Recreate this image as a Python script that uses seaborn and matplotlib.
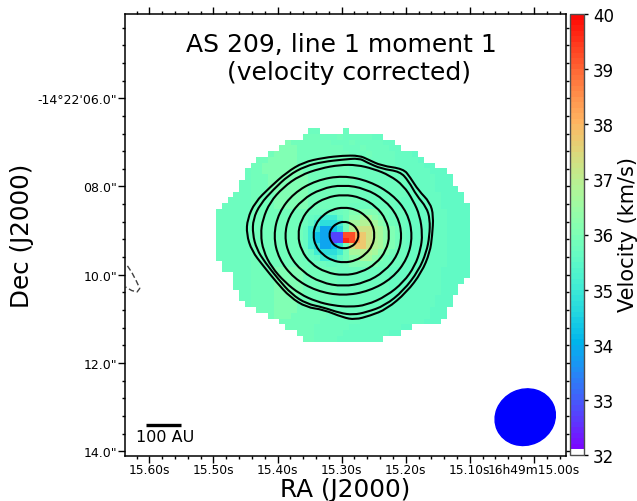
import numpy as np
import pandas as pd
import seaborn as sns
import matplotlib.pyplot as plt
from matplotlib.colors import ListedColormap
from matplotlib.patches import Ellipse, PathPatch
from matplotlib.path import Path

sns.set_style("ticks")
plt.rcParams["font.family"] = "DejaVu Sans"
for key in ["text.color", "axes.labelcolor", "xtick.color", "ytick.color", "axes.edgecolor"]:
    plt.rcParams[key] = "black"

# velocity levels (km/s) for the letters used in the map rows below
level_names = "abcdefghijklmnopqrs"
level_vals = [32.8, 33.4, 33.9, 34.3, 34.7, 35.0, 35.5, 35.6, 35.7, 35.85, 36.0,
              36.3, 36.6, 36.9, 37.3, 37.7, 38.2, 39.3, 39.6]

# first column with signal in each row, then the pixels
row_start = [16, 15, 12, 11, 9, 7, 6, 5, 5, 4, 4, 3, 2, 1,
             0, 0, 0, 0, 0, 0, 0, 0, 0, 1,
             1, 3, 3, 3, 4, 4, 5, 7, 9, 11, 12, 14, 15]
row_vals = [
    "ii....i",
    "jjjiiijiiiiihh",
    "kjjjjjjjiiijiiiiihh",
    "kkkjjjjjjjjiiijiiiihh",
    "jkkkkjjjjjjjjjiiijiiiihhhg",
    "jjkkkkkjjjjjjjjjiiiiiiiihhhhg",
    "jjkkkkkkjjjjjjjjjiiiiiiiihhhhhgg",
    "ijjkkkkkkkjjjjjjjjiiiiiiiiihhhhhggg",
    "ijjjkkkkkkkjjjjjjjjiiiiiiiiihhhhhggg",
    "iijjjkkkkkkkjjjjjjjjiiiiiiiiihhhhhggg",
    "iijjjkkkkkkkjjjjjjjjjiiiiiiiihhhhhgggg",
    "iiijjjjkkkkkkjjjjjjjjjiiiiiiiihhhhhhgggg",
    "iiiijjjjkkkkkkjjjjjjjjjiiiiiiihhhhhhhgggg",
    "iiiiijjjjkkkkkkjjjjjjjiiiiiiiihhhhhhhhggggg",
    "iiiiiijjjjjjjjj" + "jiiihhijkkkkkjji" + "iihhhhhhhgggg",
    "iiiiiijjjjjjjjj" + "ihgfffgjllmmlkji" + "iihhhhhhhgggg",
    "iiiiiijjjjjjjjj" + "igfeeefjmmnnmlkj" + "iihhhhhhhgggg",
    "iiiiiijjjjjjjjj" + "hfeccdejnooonmlk" + "jihhhhhhhgggg",
    "iiiiiijjjjjjjjj" + "hfdccaarrqponmlk" + "jihhhhhhhgggg",
    "iiiiiijjjjjjjjj" + "hfdccaasrqponmlk" + "jihhhhhhhgggg",
    "iiiiiijjjjjjjjj" + "hfeccdejopponmlk" + "jihhhhhhhgggg",
    "iiiiiijjjjjjjjj" + "igfeeefjmmnnmlkj" + "iihhhhhhhgggg",
    "iiiiiijjjjjjjjj" + "ihgfffgjllmmlkji" + "iihhhhhhhgggg",
    "iiiiijjjjjjjjj" + "jiiihhijkkkkkjji" + "iihhhhhhhgggg",
    "iiiiijjjjkkkkkjjjjjjiiiiiiiiihhhhhhhhhggggg",
    "iiijjjjkkkkkjjjjjjiiiiiiiiihhhhhhhhhggggg",
    "iiijjjjkkkkkjjjjjjiiiiiiiiihhhhhhhhhgggg",
    "iiijjjjkkkkkjjjjjjiiiiiiiiihhhhhhhhhggg",
    "iijjjjkkkkkjjjjjjiiiiiiiiihhhhhhhhhggg",
    "iijjjjkkkkjjjjjjiiiiiiiiihhhhhhhhhggg",
    "ijjjjkkkkjjjjjjiiiiiiiiihhhhhhhhhggg",
    "jjjkkkkjjjjjjiiiiiiiiihhhhhhhhggg",
    "jkkkjjjjjjiiiiiiiiihhhhhhhhhggg",
    "jjjjjjjiiiiiiihhhhhhhhhhhggg",
    "jjjjjiiiiiihhhhhhhhhgg",
    "jjjiiiiihhhhhhhhgg",
    "jjiiiihhhhhhhh",
]

# continuum contours, offsets from the disk centre in arcsec (x to the right, y down)
c1_dx = [.35, .55, .85, 1.35, 1.50, 1.69, 1.95, 2.03, 2.00, 1.95, 1.76, 1.42, .97, .59, .25,
         -.02, -.47, -.85, -1.22, -1.53, -1.83, -2.09, -2.21, -2.19, -2.02, -1.68, -1.30, -.92, -.47, -.02]
c1_dy = [-1.80, -1.71, -1.57, -1.50, -1.31, -1.01, -.74, -.44, .02, .39, .85, 1.30, 1.68, 1.83, 1.92,
         1.87, 1.69, 1.64, 1.41, 1.07, .70, .36, -.02, -.36, -.74, -1.08, -1.42, -1.65, -1.75, -1.80]
c2_dx = [.35, .51, .85, 1.27, 1.46, 1.65, 1.87, 1.95, 1.94, 1.87, 1.69, 1.35, .93, .51, .21,
         -.09, -.47, -.85, -1.19, -1.49, -1.79, -1.98, -2.07, -2.06, -1.90, -1.60, -1.26, -.88, -.47, -.02]
c2_dy = [-1.74, -1.65, -1.50, -1.44, -1.23, -.89, -.63, -.36, .02, .39, .81, 1.26, 1.60, 1.75, 1.81,
         1.77, 1.64, 1.56, 1.34, 1.00, .62, .32, -.02, -.36, -.70, -1.03, -1.35, -1.56, -1.66, -1.71]
c3_dx = [1.78, 1.72, 1.57, 1.35, 1.04, .67, .29, -.09, -.54, -1.00, -1.38, -1.68, -1.84,
         -1.89, -1.83, -1.64, -1.34, -1.00, -.62, -.24, .14, .51, .97, 1.35, 1.61, 1.74]
c3_dy = [-.02, -.44, -.78, -1.12, -1.35, -1.50, -1.59, -1.59, -1.51, -1.35, -1.08, -.74, -.36,
         -.02, .36, .73, 1.07, 1.34, 1.51, 1.60, 1.63, 1.59, 1.38, 1.07, .70, .32]
c4_dx = [1.56, 1.44, 1.10, .58, -.02, -.63, -1.14, -1.48, -1.60, -1.48, -1.14, -.63, -.02, .58, 1.10, 1.44]
c4_dy = [.02, -.51, -.92, -1.22, -1.35, -1.24, -.95, -.51, .02, .54, .98, 1.27, 1.38, 1.27, .98, .54]
c5_dx = [1.32, 1.22, .92, .49, -.02, -.52, -.95, -1.25, -1.35, -1.25, -.95, -.52, -.02, .49, .92, 1.22]
c5_dy = [.02, -.43, -.80, -1.05, -1.14, -1.05, -.80, -.43, .02, .46, .83, 1.08, 1.17, 1.08, .83, .46]
c6_dx = [1.04, .96, .73, .39, -.01, -.41, -.75, -.97, -1.05, -.97, -.75, -.41, -.01, .39, .73, .96]
c6_dy = [0, -.35, -.65, -.85, -.92, -.85, -.65, -.35, 0, .35, .65, .85, .92, .85, .65, .35]
c7_dx = [.70, .65, .49, .27, 0, -.27, -.49, -.65, -.70, -.65, -.49, -.27, 0, .27, .49, .65]
c7_dy = [0, -.24, -.44, -.58, -.63, -.58, -.44, -.24, 0, .24, .44, .58, .63, .58, .44, .24]
c8_dx = [.34, .29, .17, 0, -.17, -.29, -.34, -.29, -.17, 0, .17, .29]
c8_dy = [0, -.15, -.26, -.31, -.26, -.15, 0, .16, .27, .31, .27, .16]
# the one negative contour near the left edge
neg_dx = [-4.91, -4.81, -4.71, -4.63, -4.69, -4.81, -4.95]
neg_dy = [.70, .85, 1.04, 1.21, 1.29, 1.26, 1.18]

ra_ticks = [15.60, 15.50, 15.40, 15.30, 15.20, 15.10, 15.00]
ra_labels = ["15.60s", "15.50s", "15.40s", "15.30s", "15.20s", "15.10s", "16h49m15.00s"]
dec_ticks = [6.0, 8.0, 10.0, 12.0, 14.0]
dec_labels = ["-14°22'06.0\"", "08.0\"", "10.0\"", "12.0\"", "14.0\""]
vel_ticks = [32, 33, 34, 35, 36, 37, 38, 39, 40]

# map geometry: reference pixel and cell size on the sky
ra0, dec0 = 15.2964, 9.10
col0, row0 = 22.17, 18.53
cell_ra, cell_dec = 0.009006, 0.1309


def ra_to_col(ra):
    return col0 + (ra0 - np.asarray(ra)) / cell_ra


def dec_to_row(dec):
    return row0 + (np.asarray(dec) - dec0) / cell_dec


def off_to_col(dx):
    return col0 + np.asarray(dx) / cell_dec


def off_to_row(dy):
    return row0 + np.asarray(dy) / cell_dec


def smooth_ring(dx, dy):
    # closed curve with the read points as bezier controls, so no polygon corners
    pts = np.column_stack([off_to_col(dx), off_to_row(dy)])
    mids = (pts + np.roll(pts, -1, axis=0)) / 2
    verts = [mids[-1]]
    codes = [Path.MOVETO]
    for p, m in zip(pts, mids):
        verts += [p, m]
        codes += [Path.CURVE3, Path.CURVE3]
    return Path(verts, codes)


# build the velocity table from the letter rows
lookup = dict(zip(level_names, level_vals))
grid = np.full((len(row_vals), 44), np.nan)
for r, (start, vals) in enumerate(zip(row_start, row_vals)):
    for c, ch in enumerate(vals):
        if ch != ".":
            grid[r, start + c] = lookup[ch]
df = pd.DataFrame(grid)

# 80 colour steps, the lowest one is blank
steps = sns.color_palette("rainbow", 79)
cmap = ListedColormap([(1, 1, 1)] + list(steps))

W, H = 637, 502
fig = plt.figure(figsize=(W / 100, H / 100), dpi=100)
ax = fig.add_axes([125 / W, 1 - 457 / H, 441 / W, 442 / H])
cax = fig.add_axes([569.5 / W, 1 - 456 / H, 14.5 / W, 441 / H])

sns.heatmap(df, ax=ax, cmap=cmap, vmin=32, vmax=40, cbar_ax=cax,
            xticklabels=False, yticklabels=False, cbar_kws={"ticks": vel_ticks})

contours = [(c1_dx, c1_dy), (c2_dx, c2_dy), (c3_dx, c3_dy), (c4_dx, c4_dy),
            (c5_dx, c5_dy), (c6_dx, c6_dy), (c7_dx, c7_dy), (c8_dx, c8_dy)]
for dx, dy in contours:
    ax.add_patch(PathPatch(smooth_ring(dx, dy), fill=False, edgecolor="black", linewidth=1.5, zorder=4))

sns.lineplot(x=off_to_col(neg_dx), y=off_to_row(neg_dy), sort=False, estimator=None,
             color="0.25", linewidth=1.0, linestyle=(0, (4, 2)), ax=ax)

# beam
ax.add_patch(Ellipse((off_to_col(4.11), off_to_row(4.13)), 1.39 / cell_dec, 1.26 / cell_dec,
                     angle=-25, color="blue", zorder=5))

# scale bar, 100 AU at 126 pc
bar_col = off_to_col(np.array([-4.49, -3.70]))
ax.plot(bar_col, off_to_row([4.31, 4.31]), color="black", linewidth=2.4, solid_capstyle="butt")
ax.text(off_to_col(-4.05), off_to_row(4.57), "100 AU", ha="center", va="center", fontsize=11.5)

ax.text(0.49, 0.96, "AS 209, line 1 moment 1\n  (velocity corrected)", transform=ax.transAxes,
        ha="center", va="top", fontsize=18, linespacing=1.22)

# ticks in sky coordinates
ax.set_xticks(ra_to_col(ra_ticks))
ax.set_xticklabels(ra_labels, fontsize=8.8)
ax.set_xticks(ra_to_col(np.arange(14.96, 15.64, 0.02)), minor=True)
ax.set_yticks(dec_to_row(dec_ticks))
ax.set_yticklabels(dec_labels, fontsize=9, rotation=0)
ax.set_yticks(dec_to_row(np.arange(4.4, 14.01, 0.4)), minor=True)
ax.tick_params(which="major", length=5, width=1, top=True, right=True, bottom=True, left=True)
ax.tick_params(which="minor", length=2.5, width=1, top=True, right=True, bottom=True, left=True)
ax.tick_params(axis="x", which="major", pad=0)
ax.tick_params(axis="y", which="major", pad=0.5)
for side in ax.spines.values():
    side.set_visible(True)
    side.set_linewidth(1.1)
ax.set_xlim(ra_to_col(15.638), ra_to_col(14.95))
ax.set_ylim(dec_to_row(14.11), dec_to_row(4.09))

# axis titles placed on the figure
fig.text(345.5 / W, 1 - 490 / H, "RA (J2000)", ha="center", va="center", fontsize=17.8)
fig.text(22 / W, 1 - 235.5 / H, "Dec (J2000)", ha="center", va="center", rotation=90, fontsize=17.7)
fig.text(628 / W, 1 - 235 / H, "Velocity (km/s)", ha="center", va="center", rotation=90, fontsize=15)

cbar = ax.collections[0].colorbar
cbar.outline.set_linewidth(1)
cbar.outline.set_edgecolor("0.3")
cbar.ax.tick_params(labelsize=12, length=3, width=1, pad=3.5)

plt.savefig("out.png", dpi=100)
